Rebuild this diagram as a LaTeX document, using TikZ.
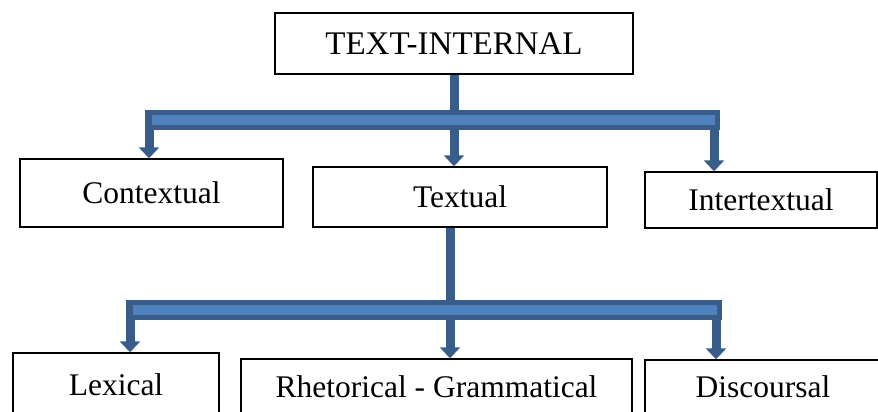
\documentclass[tikz,border=0pt]{standalone}
\usepackage{fontspec}
\setmainfont{Liberation Serif}
\usepackage{tikz}
\usetikzlibrary{arrows.meta,positioning}
\definecolor{navy}{HTML}{385D8A}
\definecolor{sky}{HTML}{4F81BD}

\begin{document}
\begin{tikzpicture}[
  x=1pt,y=-1pt,
  box/.style={draw=black,line width=1.4pt,fill=white,inner sep=0pt,font=\fontsize{31.5}{33}\selectfont},
  stem/.style={draw=navy,line width=9pt},
  drop/.style={draw=navy,line width=9pt,-{Triangle[width=20pt,length=11pt]}},
  bar/.style={draw=navy,line width=20pt,rounded corners=2pt,shorten <=-4.5pt,shorten >=-5.5pt},
  barfill/.style={draw=sky,line width=10pt,shorten <=3pt,shorten >=-1pt}
]
\clip (0,0) rectangle (878,412);
\useasboundingbox (0,0) rectangle (878,412);
% top level
\node[box,minimum width=358pt,minimum height=61pt,font=\fontsize{33}{35}\selectfont] (textint) at (454,43.5) {TEXT-INTERNAL};
\node[box,minimum width=263pt,minimum height=68pt] (context) at (151.5,193) {Contextual};
\node[box,minimum width=294pt,minimum height=60pt] (textual) at (460,197) {Textual};
\node[box,minimum width=232pt,minimum height=56pt] (intertext) at (761,200) {Intertextual};
% second level
\node[box,minimum width=206pt,minimum height=64pt] (lexical) at (116,385) {Lexical};
\node[box,minimum width=391pt,minimum height=56pt] (rhet) at (436.5,387) {Rhetorical - Grammatical};
\node[box,minimum width=236pt,minimum height=54pt] (disc) at (763,387) {Discoursal};
% branch points
\coordinate (barA) at (149,120);
\coordinate (barB) at (714,120);
\coordinate (barC) at (130,309.5);
\coordinate (barD) at (716,309.5);
\coordinate (fork) at (450,309.5);
% stems and drops go under the bars
\draw[stem] (textint.south) -- (textint.south |- barA);
\draw[drop] (barA) -- (barA |- context.north);
\draw[drop] (textint.south |- barA) -- (textint.south |- textual.north);
\draw[drop] (barB) -- (barB |- intertext.north);
\draw[stem] (fork |- textual.south) -- (fork);
\draw[drop] (barC) -- (barC |- lexical.north);
\draw[drop] (fork) -- (fork |- rhet.north);
\draw[drop] (barD) -- (barD |- disc.north);
\draw[bar] (barA) -- (barB);
\draw[barfill] (barA) -- (barB);
\draw[bar] (barC) -- (barD);
\draw[barfill] (barC) -- (barD);
\end{tikzpicture}
\end{document}
